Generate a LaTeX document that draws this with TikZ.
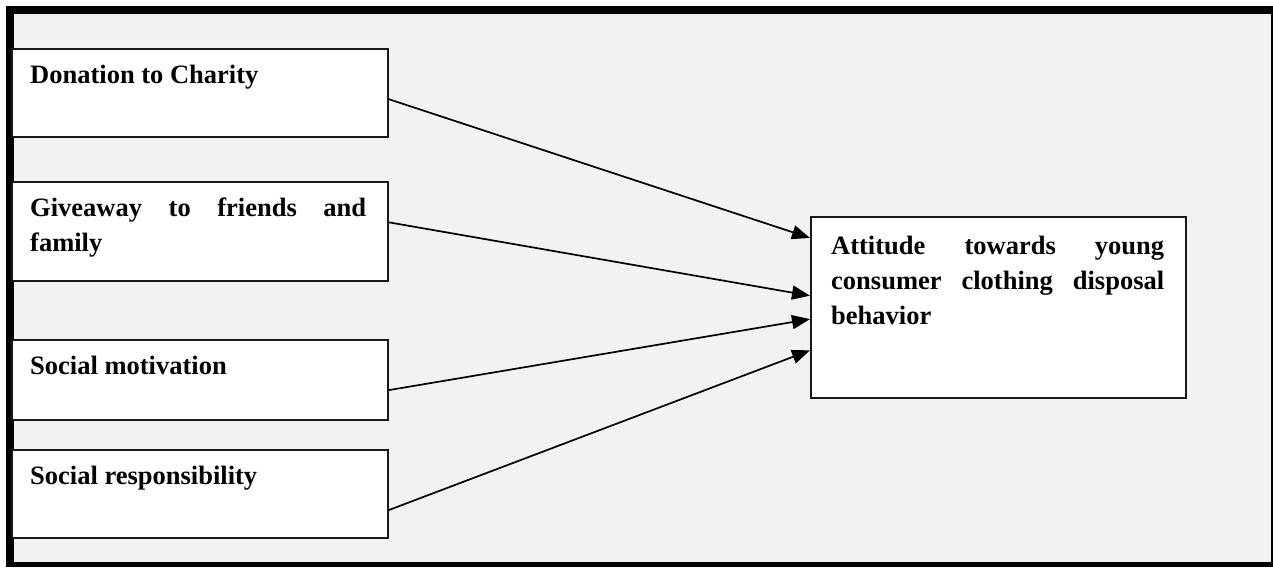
\documentclass[tikz,border=0pt]{standalone}
\usepackage{fontspec}
\setmainfont{Liberation Serif}
\usetikzlibrary{arrows.meta,calc}
\definecolor{bggray}{HTML}{F2F2F2}
\begin{document}
\begin{tikzpicture}[x=1pt,y=-1pt,
  boxst/.style={draw=black!90, line width=1.8pt, fill=white, anchor=north west, inner sep=0pt},
  lbl/.style={anchor=base west, inner sep=0pt, font=\bfseries\fontsize{26.5}{35}\selectfont, align=justify,
    execute at begin node={\hyphenpenalty=10000 \exhyphenpenalty=10000 \tolerance=10000 }},
  conn/.style={line width=1.7pt, -{Triangle[length=18pt,width=14pt]}}]
\useasboundingbox (0,0) rectangle (1273,567);
\fill[black] (6,6) rectangle (1273,567);
\fill[bggray] (14,14) rectangle (1271,562);
% source boxes
\node[boxst, minimum width=376pt, minimum height=88pt] (b1) at (11,48) {};
\node[boxst, minimum width=376pt, minimum height=99pt] (b2) at (11,181) {};
\node[boxst, minimum width=376pt, minimum height=80pt] (b3) at (11,339) {};
\node[boxst, minimum width=376pt, minimum height=88pt] (b4) at (11,449) {};
% target box
\node[boxst, minimum width=375pt, minimum height=181pt] (tg) at (810,216) {};
% labels
\node[lbl, text width=336pt] (t1) at (30,84) {Donation to Charity};
\node[lbl, text width=336pt] (t2) at (30,216) {Giveaway to friends and family};
\node[lbl, text width=336pt] (t3) at (30,374) {Social motivation};
\node[lbl, text width=336pt] (t4) at (30,484) {Social responsibility};
\node[lbl, text width=333pt] (t5) at (831,254) {Attitude towards young consumer clothing disposal behavior};
% connectors
\draw[conn] ($(b1.north east)!0.57!(b1.south east)$) -- ($(tg.north west)!0.12!(tg.south west)$);
\draw[conn] ($(b2.north east)!0.41!(b2.south east)$) -- ($(tg.north west)!0.436!(tg.south west)$);
\draw[conn] ($(b3.north east)!0.625!(b3.south east)$) -- ($(tg.north west)!0.564!(tg.south west)$);
\draw[conn] ($(b4.north east)!0.68!(b4.south east)$) -- ($(tg.north west)!0.735!(tg.south west)$);
\end{tikzpicture}
\end{document}
